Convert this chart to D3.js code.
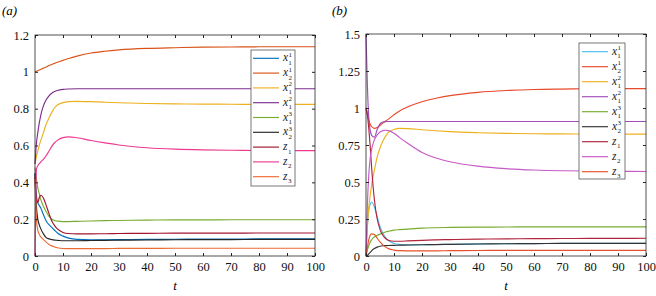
<!DOCTYPE html>
<html><head><meta charset="utf-8">
<script src="https://cdn.jsdelivr.net/npm/d3@7"></script>
<style>
body{margin:0;background:#fff}
svg{display:block}
svg text{font-family:"Liberation Serif","Times New Roman",Times,"DejaVu Serif","Noto Serif",serif;}
</style></head>
<body><svg id="c" width="656" height="296"></svg>
<script>
// ---------- data ----------
const tGrid = [0,0.5,1,1.5,2,3,4,5,6,7,8,10,12,15,20,25,30,40,50,60,70,80,90,100];
const xTicks = [0,10,20,30,40,50,60,70,80,90,100];
const seriesLabels = [["x","1","1"],["x","2","1"],["x","1","2"],["x","1","2"],["x","1","3"],["x","2","3"],["z","1",""],["z","2",""],["z","3",""]];

// panel (a)
const aYTicks = [0,0.2,0.4,0.6,0.8,1,1.2];
const aColors = ["#0072BD","#D95319","#EDB120","#7E2F8E","#77AC30","#262626","#A2142F","#EC3A92","#EE6A33"];
const a_x11 = [0.45,0.33,0.29,0.275,0.262,0.225,0.19,0.17,0.155,0.14,0.125,0.108,0.097,0.09,0.088,0.088,0.089,0.09,0.091,0.092,0.092,0.093,0.093,0.093];
const a_x21 = [1.0,1.003,1.006,1.01,1.013,1.02,1.026,1.034,1.04,1.046,1.052,1.062,1.072,1.085,1.102,1.112,1.119,1.127,1.131,1.134,1.135,1.136,1.136,1.136];
const a_x12 = [0.5,0.54,0.57,0.6,0.625,0.67,0.715,0.75,0.78,0.805,0.82,0.833,0.838,0.84,0.838,0.835,0.832,0.828,0.826,0.825,0.824,0.823,0.823,0.823];
const a_x12b = [0.5,0.61,0.67,0.72,0.76,0.815,0.848,0.87,0.884,0.893,0.899,0.905,0.907,0.908,0.908,0.908,0.908,0.908,0.908,0.908,0.908,0.908,0.908,0.908];
const a_x13 = [0.48,0.42,0.37,0.34,0.31,0.27,0.24,0.215,0.2,0.193,0.189,0.187,0.187,0.188,0.19,0.192,0.193,0.195,0.196,0.196,0.197,0.197,0.197,0.197];
const a_x23 = [0.45,0.27,0.2,0.17,0.15,0.12,0.1,0.093,0.089,0.086,0.085,0.083,0.083,0.083,0.084,0.085,0.086,0.087,0.088,0.089,0.089,0.09,0.09,0.09];
const a_z1 = [0.43,0.3,0.29,0.315,0.33,0.315,0.275,0.23,0.19,0.165,0.147,0.128,0.122,0.12,0.12,0.121,0.122,0.123,0.124,0.124,0.124,0.125,0.125,0.125];
const a_z2 = [0,0.47,0.49,0.5,0.51,0.525,0.545,0.57,0.595,0.615,0.628,0.643,0.647,0.642,0.627,0.614,0.603,0.588,0.58,0.576,0.574,0.573,0.572,0.572];
const a_z3 = [0.42,0.2,0.14,0.118,0.105,0.09,0.075,0.063,0.055,0.049,0.045,0.041,0.04,0.04,0.04,0.04,0.041,0.041,0.042,0.042,0.042,0.042,0.042,0.042];

// panel (b)
const bYTicks = [0,0.25,0.5,0.75,1,1.25,1.5];
const bColors = ["#4DBEEE","#E8492A","#EDB120","#A24DB8","#77AC30","#333333","#B0243C","#C65AC6","#E8502A"];
const b_x11 = [0,0.2,0.31,0.35,0.365,0.33,0.265,0.2,0.155,0.125,0.105,0.085,0.078,0.075,0.076,0.078,0.079,0.082,0.083,0.084,0.085,0.085,0.085,0.085];
const b_x21 = [1.0,0.96,0.92,0.89,0.875,0.862,0.868,0.882,0.898,0.912,0.925,0.955,0.98,1.008,1.042,1.066,1.084,1.106,1.118,1.125,1.128,1.13,1.131,1.131];
const b_x12 = [0,0.2,0.33,0.41,0.48,0.58,0.67,0.73,0.775,0.81,0.835,0.855,0.862,0.861,0.853,0.846,0.84,0.833,0.829,0.826,0.825,0.824,0.823,0.823];
const b_x12b = [1.5,1.15,0.93,0.85,0.815,0.803,0.855,0.893,0.905,0.908,0.909,0.909,0.909,0.909,0.909,0.909,0.909,0.909,0.909,0.909,0.909,0.909,0.909,0.909];
const b_x13 = [0,0.04,0.07,0.095,0.11,0.13,0.14,0.148,0.155,0.162,0.167,0.175,0.178,0.182,0.188,0.191,0.193,0.195,0.196,0.197,0.197,0.197,0.197,0.197];
const b_x23 = [0,0.005,0.015,0.025,0.035,0.05,0.06,0.066,0.069,0.07,0.071,0.072,0.073,0.074,0.076,0.077,0.079,0.081,0.083,0.084,0.085,0.085,0.085,0.085];
const b_z1 = [1.0,0.95,0.86,0.74,0.6,0.38,0.25,0.18,0.14,0.118,0.106,0.1,0.1,0.102,0.106,0.109,0.111,0.114,0.116,0.117,0.118,0.119,0.119,0.12];
const b_z2 = [0,0.35,0.55,0.66,0.72,0.785,0.818,0.838,0.847,0.85,0.847,0.83,0.8,0.76,0.7,0.662,0.637,0.607,0.59,0.581,0.576,0.574,0.572,0.571];
const b_z3 = [0,0.06,0.11,0.14,0.15,0.145,0.12,0.095,0.075,0.06,0.05,0.04,0.036,0.035,0.035,0.035,0.036,0.037,0.038,0.038,0.038,0.038,0.038,0.038];

const panels = [
  {tag:"(a)", tagX:2, left:35, right:315, top:35, bottom:256, yMax:1.2, yTicks:aYTicks,
   series:[a_x11,a_x21,a_x12,a_x12b,a_x13,a_x23,a_z1,a_z2,a_z3], colors:aColors,
   leg:{x:251,y:50,w:44,h:136,first:58.3,step:14.8,l1:253,l2:279,tx:283}},
  {tag:"(b)", tagX:332, left:366, right:646, top:34, bottom:256, yMax:1.5, yTicks:bYTicks,
   series:[b_x11,b_x21,b_x12,b_x12b,b_x13,b_x23,b_z1,b_z2,b_z3], colors:bColors,
   leg:{x:579,y:43,w:46,h:136,first:51.7,step:15,l1:582,l2:608,tx:612}}
];

const FONT = "'Liberation Serif','Times New Roman',Times,'DejaVu Serif','Noto Serif',serif";
const svg = d3.select("#c");
const axisCol = "#262626";

panels.forEach(p => {
  const x = d3.scaleLinear().domain([0,100]).range([p.left,p.right]);
  const y = d3.scaleLinear().domain([0,p.yMax]).range([p.bottom,p.top]);
  const g = svg.append("g").attr("font-family",FONT);

  // curves
  const line = d3.line().x((d,i)=>x(tGrid[i])).y(d=>y(d)).curve(d3.curveMonotoneX);
  p.series.forEach((s,k)=>{
    g.append("path").attr("d",line(s)).attr("fill","none")
      .attr("stroke",p.colors[k]).attr("stroke-width",1.15);
  });

  const fmt = d => String(d);
  const styleAxis = sel => {
    sel.attr("font-family",FONT);
    sel.select(".domain").remove();
    sel.selectAll("line").attr("stroke",axisCol);
    sel.selectAll("text").attr("fill","#111").attr("font-family",FONT).style("font-size","12.5px");
  };
  g.append("g").attr("transform",`translate(0,${p.bottom})`)
    .call(d3.axisBottom(x).tickValues(xTicks).tickFormat(fmt).tickSizeInner(-3).tickSizeOuter(0).tickPadding(6))
    .call(styleAxis);
  g.append("g").attr("transform",`translate(0,${p.top})`)
    .call(d3.axisTop(x).tickValues(xTicks).tickFormat("").tickSizeInner(-3).tickSizeOuter(0))
    .call(styleAxis);
  g.append("g").attr("transform",`translate(${p.left},0)`)
    .call(d3.axisLeft(y).tickValues(p.yTicks).tickFormat(fmt).tickSizeInner(-3).tickSizeOuter(0).tickPadding(6))
    .call(styleAxis);
  g.append("g").attr("transform",`translate(${p.right},0)`)
    .call(d3.axisRight(y).tickValues(p.yTicks).tickFormat("").tickSizeInner(-3).tickSizeOuter(0))
    .call(styleAxis);

  g.append("rect").attr("x",p.left).attr("y",p.top)
    .attr("width",p.right-p.left).attr("height",p.bottom-p.top)
    .attr("fill","none").attr("stroke",axisCol).attr("stroke-width",0.8);

  // axis label
  g.append("text").attr("x",(p.left+p.right)/2).attr("y",290)
    .attr("text-anchor","middle").attr("font-family",FONT).style("font-style","italic").style("font-size","13px").text("t");
  // panel tag
  g.append("text").attr("x",p.tagX).attr("y",15).attr("font-family",FONT)
    .style("font-style","italic").style("font-size","13px").text(p.tag);

  // legend
  const L = p.leg;
  g.append("rect").attr("x",L.x).attr("y",L.y).attr("width",L.w).attr("height",L.h)
    .attr("fill","#fff").attr("stroke","#555").attr("stroke-width",0.8);
  seriesLabels.forEach((lab,k)=>{
    const yy = L.first + k*L.step;
    g.append("line").attr("x1",L.l1).attr("x2",L.l2).attr("y1",yy).attr("y2",yy)
      .attr("stroke",p.colors[k]).attr("stroke-width",1.15);
    const t = g.append("text").attr("x",L.tx).attr("y",yy+3).attr("font-family",FONT)
      .style("font-size","11.5px").attr("fill","#222");
    t.append("tspan").style("font-style","italic").text(lab[0]);
    if (lab[2]) {
      t.append("tspan").attr("dx",0.5).attr("dy",-4.5).style("font-size","7px").text(lab[2]);
      t.append("tspan").attr("dx",-3.5).attr("dy",8).style("font-size","7px").text(lab[1]);
    } else {
      t.append("tspan").attr("dx",0.5).attr("dy",3.5).style("font-size","7px").text(lab[1]);
    }
  });
});
</script></body></html>
